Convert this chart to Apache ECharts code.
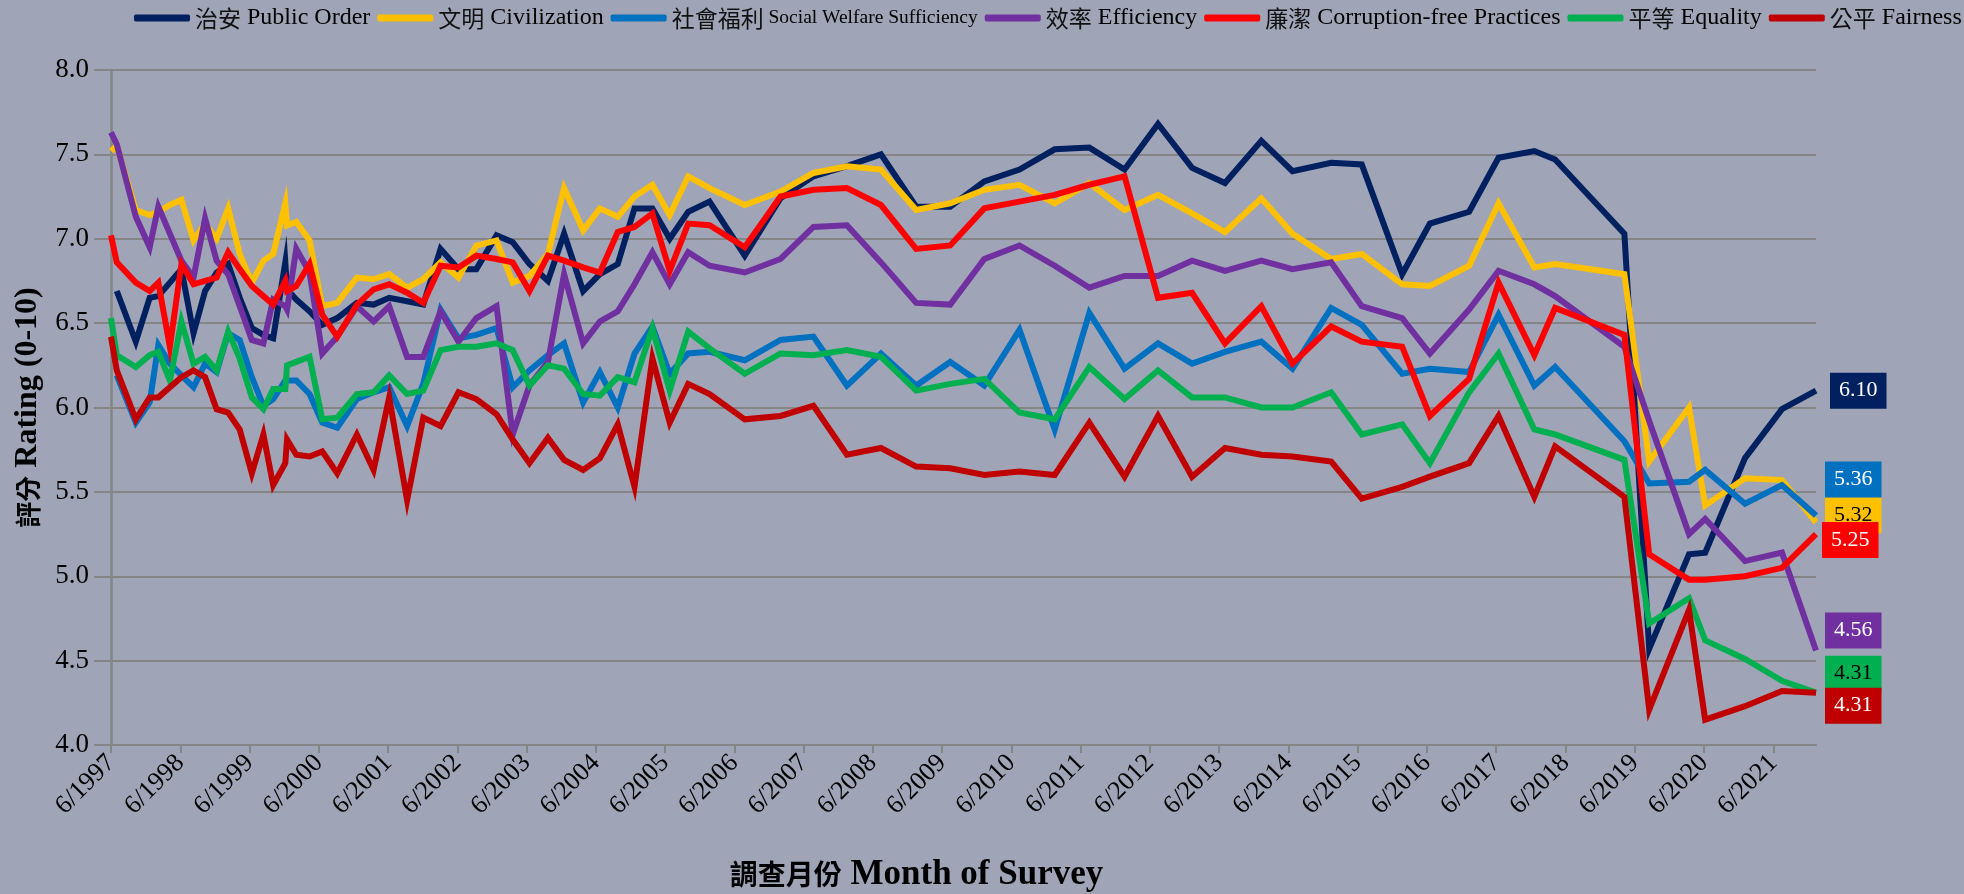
<!DOCTYPE html>
<html>
<head>
<meta charset="utf-8">
<script src="https://cdn.jsdelivr.net/npm/echarts@6/dist/echarts.min.js"></script>
<style>
html,body{margin:0;padding:0;background:#9FA4B7;}
#chart{width:1964px;height:894px;}
</style>
</head>
<body>
<div id="chart"></div>
<script>
// Survey dates as months after June 1997
const months = [0, 1, 4.3, 6.7, 8.2, 10.2, 12.2, 14.3, 16.3, 18.3, 20.3, 22.3, 24.4, 26.4, 28.1, 30.2, 30.5, 32.1, 34.4, 36.6,
  39.2, 42.6, 45.5, 48.2, 51.3, 54.1, 57.1, 60.2, 63.3, 66.8, 69.6, 72.5, 75.7, 78.5, 81.8, 84.7, 87.8, 90.7, 93.8, 96.8,
  100.0, 103.7, 109.8, 116.0, 121.7, 127.5, 133.4, 139.5, 145.4, 151.3, 157.4, 163.5, 169.5, 175.6, 181.4, 187.3, 193.0, 199.3, 204.7, 211.4,
  216.7, 223.7, 228.5, 235.3, 240.4, 246.6, 250.2, 262.2, 266.5, 273.4, 276.2, 283.1, 289.5, 295.4];

const tickLabels = ['6/1997','6/1998','6/1999','6/2000','6/2001','6/2002','6/2003','6/2004','6/2005','6/2006','6/2007','6/2008','6/2009',
  '6/2010','6/2011','6/2012','6/2013','6/2014','6/2015','6/2016','6/2017','6/2018','6/2019','6/2020','6/2021'];

const publicOrder = [null, 6.69, 6.39, 6.65, 6.66, 6.74, 6.82, 6.44, 6.69, 6.80, 6.85, 6.65, 6.47, 6.43, 6.41, 6.86, 6.70, 6.64, 6.57, 6.49,
  6.53, 6.62, 6.61, 6.65, 6.63, 6.61, 6.94, 6.82, 6.82, 7.02, 6.98, 6.85, 6.75, 7.03, 6.69, 6.79, 6.85, 7.18, 7.18, 7.00,
  7.16, 7.22, 6.90, 7.24, 7.37, 7.43, 7.50, 7.19, 7.19, 7.34, 7.41, 7.53, 7.54, 7.41, 7.68, 7.42, 7.33, 7.58, 7.40, 7.45,
  7.44, 6.79, 7.09, 7.16, 7.48, 7.52, 7.47, 7.03, 4.57, 5.13, 5.14, 5.70, 5.99, 6.10];

const civilization = [7.52, 7.55, 7.17, 7.14, 7.16, 7.20, 7.23, 6.99, 7.09, 7.00, 7.18, 6.91, 6.74, 6.87, 6.91, 7.21, 7.08, 7.10, 6.99, 6.60,
  6.62, 6.77, 6.76, 6.79, 6.71, 6.76, 6.86, 6.77, 6.96, 6.99, 6.74, 6.78, 6.91, 7.30, 7.05, 7.18, 7.13, 7.25, 7.32, 7.14,
  7.37, 7.30, 7.20, 7.28, 7.39, 7.43, 7.41, 7.17, 7.21, 7.29, 7.32, 7.21, 7.33, 7.17, 7.26, 7.15, 7.04, 7.24, 7.03, 6.88,
  6.91, 6.73, 6.72, 6.84, 7.21, 6.83, 6.85, 6.79, 5.68, 6.00, 5.42, 5.58, 5.57, 5.32];

const socialWelfare = [null, 6.19, 5.91, 6.03, 6.37, 6.26, 6.19, 6.12, 6.26, 6.21, 6.44, 6.40, 6.18, 6.01, 6.05, 6.16, 6.15, 6.16, 6.08, 5.91,
  5.88, 6.05, 6.09, 6.12, 5.89, 6.14, 6.58, 6.41, 6.43, 6.47, 6.12, 6.22, 6.31, 6.38, 6.03, 6.21, 6.00, 6.32, 6.48, 6.20,
  6.32, 6.33, 6.28, 6.40, 6.42, 6.13, 6.32, 6.13, 6.27, 6.13, 6.46, 5.87, 6.56, 6.23, 6.38, 6.26, 6.33, 6.39, 6.23, 6.59,
  6.49, 6.20, 6.23, 6.21, 6.55, 6.13, 6.24, 5.80, 5.55, 5.56, 5.63, 5.43, 5.54, 5.36];

const efficiency = [7.63, 7.56, 7.13, 6.95, 7.19, 7.03, 6.87, 6.77, 7.12, 6.87, 6.79, 6.60, 6.40, 6.38, 6.64, 6.60, 6.58, 6.94, 6.80, 6.32,
  6.42, 6.60, 6.51, 6.60, 6.30, 6.30, 6.57, 6.39, 6.53, 6.60, 5.84, 6.13, 6.27, 6.79, 6.38, 6.51, 6.57, 6.73, 6.92, 6.73,
  6.92, 6.84, 6.80, 6.88, 7.07, 7.08, 6.86, 6.62, 6.61, 6.88, 6.96, 6.84, 6.71, 6.78, 6.78, 6.87, 6.81, 6.87, 6.82, 6.86,
  6.60, 6.53, 6.32, 6.58, 6.81, 6.73, 6.66, 6.36, 5.92, 5.25, 5.34, 5.09, 5.14, 4.56];

const corruptionFree = [7.02, 6.86, 6.74, 6.69, 6.74, 6.36, 6.85, 6.73, 6.75, 6.77, 6.92, 6.82, 6.72, 6.66, 6.61, 6.75, 6.69, 6.72, 6.85, 6.55,
  6.42, 6.61, 6.70, 6.73, 6.68, 6.62, 6.84, 6.83, 6.90, 6.88, 6.86, 6.69, 6.90, 6.87, 6.83, 6.80, 7.04, 7.07, 7.15, 6.81,
  7.09, 7.08, 6.95, 7.25, 7.29, 7.30, 7.20, 6.94, 6.96, 7.18, 7.22, 7.26, 7.32, 7.37, 6.65, 6.68, 6.38, 6.60, 6.26, 6.48,
  6.39, 6.36, 5.95, 6.17, 6.74, 6.31, 6.59, 6.43, 5.13, 4.98, 4.98, 5.00, 5.05, 5.25];

const equality = [6.53, 6.31, 6.24, 6.31, 6.33, 6.16, 6.51, 6.26, 6.30, 6.22, 6.45, 6.29, 6.06, 5.99, 6.11, 6.11, 6.25, 6.27, 6.30, 5.93,
  5.94, 6.08, 6.09, 6.19, 6.08, 6.10, 6.34, 6.36, 6.36, 6.38, 6.34, 6.13, 6.25, 6.23, 6.08, 6.07, 6.18, 6.15, 6.47, 6.10,
  6.45, 6.35, 6.20, 6.32, 6.31, 6.34, 6.30, 6.10, 6.14, 6.17, 5.97, 5.93, 6.24, 6.05, 6.22, 6.06, 6.06, 6.00, 6.00, 6.09,
  5.84, 5.90, 5.67, 6.09, 6.32, 5.87, 5.84, 5.69, 4.72, 4.87, 4.62, 4.51, 4.38, 4.31];

const fairness = [6.42, 6.22, 5.93, 6.06, 6.06, 6.12, 6.18, 6.22, 6.18, 5.99, 5.97, 5.87, 5.61, 5.84, 5.54, 5.67, 5.81, 5.72, 5.71, 5.74,
  5.61, 5.84, 5.63, 6.06, 5.45, 5.94, 5.89, 6.09, 6.05, 5.96, 5.81, 5.67, 5.82, 5.69, 5.63, 5.70, 5.90, 5.53, 6.29, 5.91,
  6.14, 6.08, 5.93, 5.95, 6.01, 5.72, 5.76, 5.65, 5.64, 5.60, 5.62, 5.60, 5.91, 5.59, 5.95, 5.59, 5.76, 5.72, 5.71, 5.68,
  5.46, 5.53, 5.59, 5.67, 5.95, 5.47, 5.77, 5.47, 4.21, 4.80, 4.15, 4.23, 4.32, 4.31];

const seriesNames = ['治安 Public Order', '文明 Civilization', '社會福利 Social Welfare Sufficiency', '效率 Efficiency',
  '廉潔 Corruption-free Practices', '平等 Equality', '公平 Fairness'];
const seriesValues = [publicOrder, civilization, socialWelfare, efficiency, corruptionFree, equality, fairness];

// styling
const colors = ['#002060', '#FFC000', '#0070C0', '#7030A0', '#FF0000', '#00B050', '#C00000'];
const labelTextColors = ['#FFFFFF', '#000000', '#FFFFFF', '#FFFFFF', '#FFFFFF', '#000000', '#FFFFFF'];
const labelShift = [[14, 0], [9, -7], [9, -36], [9, -20], [6, 6], [9, -19], [9, 13]];

const serif = "'Liberation Serif', 'Times New Roman', serif";
const cjk = "'Noto Sans CJK TC', 'Noto Sans CJK SC', sans-serif";

const chart = echarts.init(document.getElementById('chart'), null, {renderer: 'canvas'});

const series = seriesNames.map((name, i) => ({
  name: name,
  type: 'line',
  symbol: 'none',
  z: 2 + i,
  data: months.map((m, k) => [m, seriesValues[i][k]]).filter(d => d[1] !== null),
  lineStyle: {color: colors[i], width: 6, join: 'miter', cap: 'butt'},
  itemStyle: {color: colors[i]},
  endLabel: {
    show: true,
    formatter: p => p.value[1].toFixed(2),
    color: labelTextColors[i],
    backgroundColor: colors[i],
    fontFamily: serif,
    fontSize: 22,
    lineHeight: 23,
    padding: [7, 9, 6, 9],
    distance: labelShift[i][0],
    offset: [0, labelShift[i][1]]
  }
}));

chart.setOption({
  animation: false,
  backgroundColor: '#9FA4B7',
  color: colors,
  textStyle: {fontFamily: serif},
  legend: {
    show: true,
    left: 129,
    top: 1,
    width: 2400,
    itemWidth: 56,
    itemHeight: 7,
    itemGap: 7,
    icon: 'roundRect',
    data: seriesNames,
    formatter: function (name) {
      const sp = name.indexOf(' ');
      const head = name.slice(0, sp);
      const tail = name.slice(sp + 1);
      const style = tail.indexOf('Sufficiency') >= 0 ? 's' : 'l';
      return '{c|' + head + '}{' + style + '| ' + tail + '}';
    },
    textStyle: {
      color: '#000',
      fontSize: 24,
      fontFamily: serif,
      rich: {
        c: {fontFamily: cjk, fontSize: 23, color: '#111'},
        l: {fontFamily: serif, fontSize: 24, color: '#000'},
        s: {fontFamily: serif, fontSize: 19.5, color: '#000'}
      }
    }
  },
  grid: {left: 111, right: 148, top: 70, bottom: 149, containLabel: false, outerBoundsMode: 'none'},
  xAxis: {
    type: 'value',
    min: 0,
    max: months[months.length - 1],
    name: '{c|調查月份}{l| Month of Survey}',
    nameLocation: 'middle',
    nameGap: 112,
    nameTextStyle: {
      padding: [0, 94, 0, 0],
      rich: {
        c: {fontFamily: cjk, fontSize: 28, fontWeight: 'bold', color: '#000'},
        l: {fontFamily: serif, fontSize: 35, fontWeight: 'bold', color: '#000'}
      }
    },
    axisLine: {show: true, lineStyle: {color: '#858585', width: 2}},
    axisTick: {show: true, length: 8, inside: false, customValues: tickLabels.map((t, i) => i * 12), lineStyle: {color: '#858585', width: 2}},
    axisLabel: {
      customValues: tickLabels.map((t, i) => i * 12),
      formatter: v => tickLabels[Math.round(v / 12)] || '',
      rotate: 45,
      margin: 14,
      fontSize: 26,
      fontFamily: serif,
      color: '#000'
    },
    splitLine: {show: false}
  },
  yAxis: {
    type: 'value',
    min: 4,
    max: 8,
    interval: 0.5,
    name: '{c|評分}{l| Rating (0-10)}',
    nameLocation: 'middle',
    nameRotate: 90,
    nameGap: 67,
    nameTextStyle: {
      rich: {
        c: {fontFamily: cjk, fontSize: 26, fontWeight: 'bold', color: '#000'},
        l: {fontFamily: serif, fontSize: 32, fontWeight: 'bold', color: '#000'}
      }
    },
    axisLine: {show: true, lineStyle: {color: '#858585', width: 2.5}},
    axisTick: {show: true, length: 17, inside: false, lineStyle: {color: '#858585', width: 2}},
    axisLabel: {formatter: v => v.toFixed(1), margin: 22, fontSize: 27, fontFamily: serif, color: '#000'},
    splitLine: {show: true, lineStyle: {color: '#858585', width: 2}}
  },
  series: series
});
</script>
</body>
</html>
